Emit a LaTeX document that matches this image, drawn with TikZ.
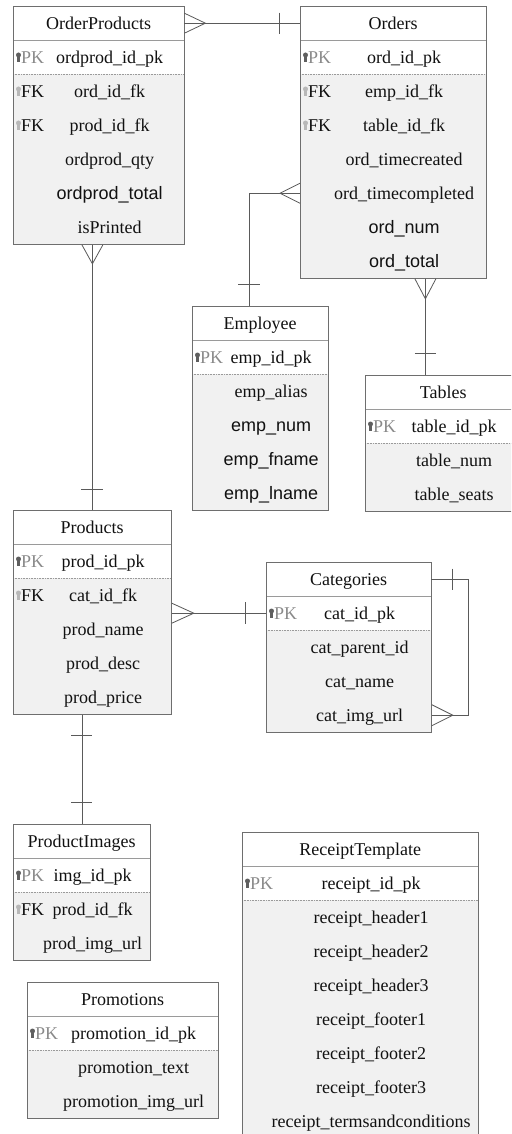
\documentclass[tikz,border=0pt]{standalone}
\usepackage{fontspec}
\setmainfont{Liberation Serif}
\newfontfamily\arialf{Liberation Sans}
\usetikzlibrary{calc}
\definecolor{framec}{HTML}{6E6E6E}
\definecolor{rowfill}{HTML}{F1F1F1}
\definecolor{sepc}{HTML}{9A9A9A}
\definecolor{connc}{HTML}{5A5A5A}
\definecolor{pkc}{HTML}{8A8A8A}
\definecolor{pkkey}{HTML}{5F5F5F}
\definecolor{fkkey}{HTML}{B8B8B8}
\definecolor{txt}{HTML}{111111}
\tikzset{
  tframe/.style={draw=framec, line width=0.8pt, inner sep=0pt, anchor=north west},
  cell/.style={inner sep=0pt, anchor=north west, minimum height=34pt, text height=14.5pt, text depth=1.5pt, text=txt, font=\fontsize{18}{20}\selectfont},
  keylab/.style={inner sep=0pt, anchor=west, text height=14.5pt, text depth=1.5pt, text=txt, font=\fontsize{18}{20}\selectfont},
  titlesep/.style={draw=sepc, line width=0.8pt},
  pksep/.style={draw=sepc, line width=0.7pt, dash pattern=on 0.8pt off 0.8pt},
  conn/.style={draw=connc, line width=0.8pt},
}
\newcommand\keyic[3]{%
  \fill[#3] (#1,{#2-2}) circle[radius=2.5pt];
  \fill[#3] ({#1-1.1},{#2-2}) rectangle ({#1+1.1},{#2+5});
}
% name L R T B title
\newcommand\ertab[6]{%
  \fill[white] (#2,#4) rectangle (#3,#5);
  \fill[rowfill] (#2,{#4+68}) rectangle (#3,#5);
  \draw[titlesep] (#2,{#4+34}) -- (#3,{#4+34});
  \draw[pksep] (#2,{#4+68}) -- (#3,{#4+68});
  \node[tframe, minimum width={#3-#2}, minimum height={#5-#4}] (#1) at (#2,#4) {};
  \node[cell, minimum width={#3-#2}] (#1T) at (#2,#4) {#6};
}
% name L R T text
\newcommand\erpk[5]{%
  \keyic{#2+5.5}{#4+51}{pkkey}
  \node[keylab, text=pkc] (#1PKl) at ({#2+8},{#4+51}) {PK};
  \node[cell, minimum width={#3-#2-22}] (#1PK) at ({#2+22},{#4+34}) {#5};
}
% nodename L R T k font text
\newcommand\erfield[7]{%
  \node[cell, font=#6, minimum width={#3-#2-22}] (#1) at ({#2+22},{#4+34*#5}) {#7};
}
% nodename L T k
\newcommand\erfk[4]{%
  \keyic{#2+5.5}{#3+34*#4+17}{fkkey}
  \node[keylab] (#1) at ({#2+8},{#3+34*#4+17}) {FK};
}
\newcommand\serf{\fontsize{18}{20}\selectfont}
\newcommand\sanf{\arialf\fontsize{18}{20}\selectfont}
\begin{document}
\begin{tikzpicture}[x=1pt,y=-1pt]
\useasboundingbox (0,0) rectangle (511,1134);
\clip (0,0) rectangle (511,1134);
\fill[white] (0,0) rectangle (511,1134);

% ---------- OrderProducts
\ertab{op}{13}{184}{6}{244}{OrderProducts}
\erpk{op}{13}{184}{6}{ordprod\_id\_pk}
\erfk{opK2}{13}{6}{2}
\erfield{opF2}{13}{184}{6}{2}{\serf}{ord\_id\_fk}
\erfk{opK3}{13}{6}{3}
\erfield{opF3}{13}{184}{6}{3}{\serf}{prod\_id\_fk}
\erfield{opF4}{13}{184}{6}{4}{\serf}{ordprod\_qty}
\erfield{opF5}{13}{184}{6}{5}{\sanf}{ordprod\_total}
\erfield{opF6}{13}{184}{6}{6}{\serf}{isPrinted}

% ---------- Orders
\ertab{ord}{300}{486}{6}{278}{Orders}
\erpk{ord}{300}{486}{6}{ord\_id\_pk}
\erfk{ordK2}{300}{6}{2}
\erfield{ordF2}{300}{486}{6}{2}{\serf}{emp\_id\_fk}
\erfk{ordK3}{300}{6}{3}
\erfield{ordF3}{300}{486}{6}{3}{\serf}{table\_id\_fk}
\erfield{ordF4}{300}{486}{6}{4}{\serf}{ord\_timecreated}
\erfield{ordF5}{300}{486}{6}{5}{\serf}{ord\_timecompleted}
\erfield{ordF6}{300}{486}{6}{6}{\sanf}{ord\_num}
\erfield{ordF7}{300}{486}{6}{7}{\sanf}{ord\_total}

% ---------- Employee
\ertab{emp}{192}{328}{306}{510}{Employee}
\erpk{emp}{192}{328}{306}{emp\_id\_pk}
\erfield{empF2}{192}{328}{306}{2}{\serf}{emp\_alias}
\erfield{empF3}{192}{328}{306}{3}{\sanf}{emp\_num}
\erfield{empF4}{192}{328}{306}{4}{\sanf}{emp\_fname}
\erfield{empF5}{192}{328}{306}{5}{\sanf}{emp\_lname}

% ---------- Tables
\ertab{tbl}{365}{521}{375}{511}{Tables}
\erpk{tbl}{365}{521}{375}{table\_id\_pk}
\erfield{tblF2}{365}{521}{375}{2}{\serf}{table\_num}
\erfield{tblF3}{365}{521}{375}{3}{\serf}{table\_seats}

% ---------- Products
\ertab{prod}{13}{171}{510}{714}{Products}
\erpk{prod}{13}{171}{510}{prod\_id\_pk}
\erfk{prodK2}{13}{510}{2}
\erfield{prodF2}{13}{171}{510}{2}{\serf}{cat\_id\_fk}
\erfield{prodF3}{13}{171}{510}{3}{\serf}{prod\_name}
\erfield{prodF4}{13}{171}{510}{4}{\serf}{prod\_desc}
\erfield{prodF5}{13}{171}{510}{5}{\serf}{prod\_price}

% ---------- Categories
\ertab{cat}{266}{431}{562}{732}{Categories}
\erpk{cat}{266}{431}{562}{cat\_id\_pk}
\erfield{catF2}{266}{431}{562}{2}{\serf}{cat\_parent\_id}
\erfield{catF3}{266}{431}{562}{3}{\serf}{cat\_name}
\erfield{catF4}{266}{431}{562}{4}{\serf}{cat\_img\_url}

% ---------- ProductImages
\ertab{pimg}{13}{150}{824}{960}{ProductImages}
\erpk{pimg}{13}{150}{824}{img\_id\_pk}
\erfk{pimgK2}{13}{824}{2}
\erfield{pimgF2}{13}{150}{824}{2}{\serf}{prod\_id\_fk}
\erfield{pimgF3}{13}{150}{824}{3}{\serf}{prod\_img\_url}

% ---------- Promotions
\ertab{promo}{27}{218}{982}{1118}{Promotions}
\erpk{promo}{27}{218}{982}{promotion\_id\_pk}
\erfield{promoF2}{27}{218}{982}{2}{\serf}{promotion\_text}
\erfield{promoF3}{27}{218}{982}{3}{\serf}{promotion\_img\_url}

% ---------- ReceiptTemplate
\ertab{rcpt}{242}{478}{832}{1138}{ReceiptTemplate}
\erpk{rcpt}{242}{478}{832}{receipt\_id\_pk}
\erfield{rcptF2}{242}{478}{832}{2}{\serf}{receipt\_header1}
\erfield{rcptF3}{242}{478}{832}{3}{\serf}{receipt\_header2}
\erfield{rcptF4}{242}{478}{832}{4}{\serf}{receipt\_header3}
\erfield{rcptF5}{242}{478}{832}{5}{\serf}{receipt\_footer1}
\erfield{rcptF6}{242}{478}{832}{6}{\serf}{receipt\_footer2}
\erfield{rcptF7}{242}{478}{832}{7}{\serf}{receipt\_footer3}
\erfield{rcptF8}{242}{478}{832}{8}{\serf}{receipt\_termsandconditions}

% ---------- connectors
% OrderProducts >---|- Orders
\draw[conn] (opT.east) -- (ordT.west);
\draw[conn] ($(opT.east)+(0,-10)$) -- ($(opT.east)+(21,0)$) -- ($(opT.east)+(0,10)$);
\draw[conn] ($(ordT.west)+(-21,-10.5)$) -- ($(ordT.west)+(-21,10.5)$);

% Orders >--- Employee
\coordinate (c2) at (ord.west |- ordF5);
\coordinate (empIn) at ($(empT.north)+(-11,0)$);
\draw[conn] (c2) -| (empIn);
\draw[conn] ($(c2)+(0,-10)$) -- ($(c2)+(-20,0)$) -- ($(c2)+(0,10)$);
\draw[conn] ($(empIn)+(-11,-22)$) -- ($(empIn)+(11,-22)$);

% Orders >--- Tables
\coordinate (c3) at ($(ord.south)+(32,0)$);
\coordinate (tblIn) at (c3 |- tbl.north);
\draw[conn] (c3) -- (tblIn);
\draw[conn] ($(c3)+(-10.5,0)$) -- ($(c3)+(0,20)$) -- ($(c3)+(10.5,0)$);
\draw[conn] ($(tblIn)+(-10.5,-22)$) -- ($(tblIn)+(10.5,-22)$);

% OrderProducts >--- Products
\coordinate (c4) at (prod.north |- op.south);
\draw[conn] (c4) -- (prod.north);
\draw[conn] ($(c4)+(-10.5,0)$) -- ($(c4)+(0,19)$) -- ($(c4)+(10.5,0)$);
\draw[conn] ($(prod.north)+(-11,-21)$) -- ($(prod.north)+(11,-21)$);

% Products >--- Categories
\coordinate (c5) at (prod.east |- catPK);
\coordinate (c5b) at (cat.west |- catPK);
\draw[conn] (c5) -- (c5b);
\draw[conn] ($(c5)+(0,-10)$) -- ($(c5)+(22,0)$) -- ($(c5)+(0,10)$);
\draw[conn] ($(c5b)+(-21,-11)$) -- ($(c5b)+(-21,11)$);

% Categories self
\coordinate (c6) at (cat.east |- catF4);
\draw[conn] (catT.east) -- ++(37,0) |- (c6);
\draw[conn] ($(c6)+(0,-10.5)$) -- ($(c6)+(21,0)$) -- ($(c6)+(0,10.5)$);
\draw[conn] ($(catT.east)+(21,-10.5)$) -- ($(catT.east)+(21,10.5)$);

% Products -|---|- ProductImages
\coordinate (c7) at (pimg.north |- prod.south);
\draw[conn] (c7) -- (pimg.north);
\draw[conn] ($(c7)+(-10.5,21)$) -- ($(c7)+(10.5,21)$);
\draw[conn] ($(pimg.north)+(-10.5,-22)$) -- ($(pimg.north)+(10.5,-22)$);
\end{tikzpicture}
\end{document}
